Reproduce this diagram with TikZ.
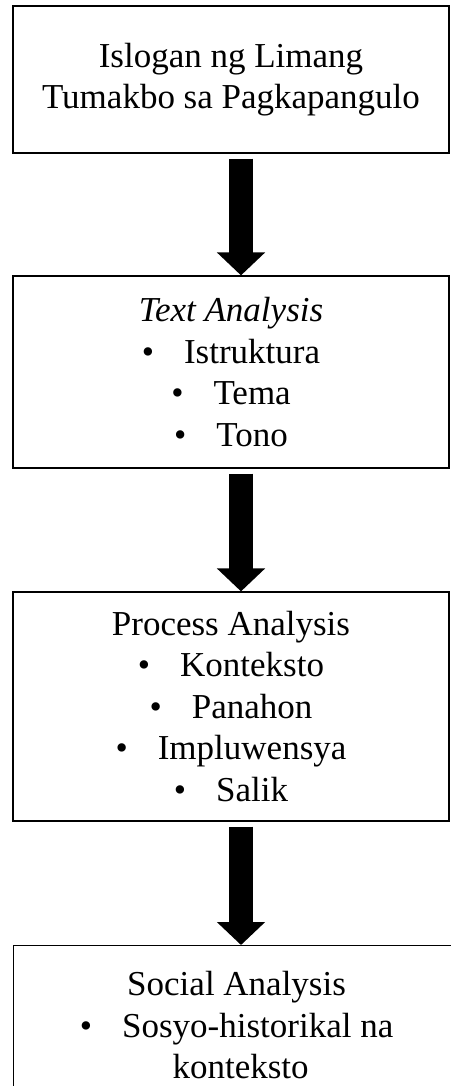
\documentclass[tikz,border=0pt]{standalone}
\usepackage{fontspec}
\setmainfont{Liberation Serif}
\usetikzlibrary{arrows.meta}
\tikzstyle{stagebox}=[draw=black,line width=1.2pt,rectangle,minimum width=436pt,inner sep=0pt,align=center,font=\fontsize{35}{41.5}\selectfont]
\tikzstyle{flowarrow}=[line width=24pt,-{Triangle[width=47pt,length=23pt]},shorten <=5pt]

\begin{document}
\begin{tikzpicture}[x=1pt,y=-1pt]
    \useasboundingbox (0,0) rectangle (450,1086);
    \node[stagebox,minimum height=147pt] (n1) at (231,79.5) {Islogan ng Limang\\Tumakbo sa Pagkapangulo};
    \node[stagebox,minimum height=192pt] (n2) at (231,372) {\textit{Text Analysis}\\\textbullet\hspace{30pt}Istruktura\\\textbullet\hspace{30pt}Tema\\\textbullet\hspace{30pt}Tono};
    \node[stagebox,minimum height=229pt] (n3) at (231,706.5) {Process Analysis\\\textbullet\hspace{30pt}Konteksto\\\textbullet\hspace{30pt}Panahon\\\textbullet\hspace{30pt}Impluwensya\\\textbullet\hspace{30pt}Salik};
    \node[stagebox,minimum width=446pt,anchor=north west,inner ysep=26pt] (n4) at (13,945) {Social Analysis\\\textbullet\hspace{30pt}Sosyo-historikal na\\\hspace*{8pt}konteksto};
    
    \foreach \from/\to in {n1/n2,n2/n3,n3/n4}
    \draw[flowarrow] ([xshift=10pt]\from.south) -- ([xshift=10pt]\from.south |- \to.north);
\end{tikzpicture}
\end{document}
